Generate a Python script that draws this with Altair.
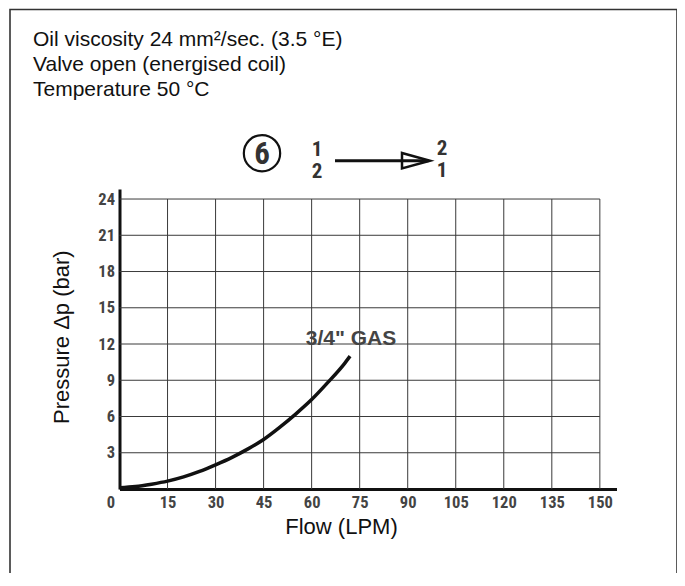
import altair as alt
import pandas as pd

# ---------------- data ----------------
FLOW = [0, 5, 10, 15, 20, 25, 30, 35, 40, 45, 50, 55, 60, 65, 70, 72]
PRESSURE = [0.1, 0.2, 0.4, 0.65, 1.0, 1.45, 2.0, 2.6, 3.3, 4.1, 5.1, 6.2, 7.4, 8.8, 10.3, 11.0]
X_TICKS = [0, 15, 30, 45, 60, 75, 90, 105, 120, 135, 150]
Y_TICKS = [3, 6, 9, 12, 15, 18, 21, 24]
X_MAX = 150
Y_MAX = 24
HEADER = ["Oil viscosity 24 mm\u00b2/sec. (3.5 \u00b0E)",
          "Valve open (energised coil)",
          "Temperature 50 \u00b0C"]
CURVE_LABEL = ['3/4" GAS']
LABEL_FLOW = [72.3]
LABEL_PRESSURE = [12.4]
FLOW_NO = ["6"]
PORTS_FROM = ["1", "2"]
PORTS_TO = ["2", "1"]
X_TITLE = "Flow (LPM)"
Y_TITLE = "Pressure \u0394p (bar)"

NARROW = "Liberation Sans Narrow, Arial Narrow, Roboto Condensed, Liberation Sans"
SANS = "Liberation Sans, Arial"

xs = alt.Scale(domain=[0, 155.2], nice=False, zero=False)
ys = alt.Scale(domain=[0, 24.83], nice=False, zero=False)

curve_df = pd.DataFrame({"flow": FLOW, "pressure": PRESSURE})
vgrid_df = pd.DataFrame({"x": X_TICKS[1:], "y0": [0] * (len(X_TICKS) - 1), "y1": [Y_MAX] * (len(X_TICKS) - 1)})
hgrid_df = pd.DataFrame({"y": Y_TICKS, "x0": [0] * len(Y_TICKS), "x1": [X_MAX] * len(Y_TICKS)})
label_df = pd.DataFrame({"flow": LABEL_FLOW, "pressure": LABEL_PRESSURE, "t": CURVE_LABEL})
header_df = pd.DataFrame({"t": ["\n".join(HEADER)]})
one = pd.DataFrame({"k": [0]})
no_df = pd.DataFrame({"t": FLOW_NO})
from_df = pd.DataFrame({"t": ["\n".join(PORTS_FROM)]})
to_df = pd.DataFrame({"t": ["\n".join(PORTS_TO)]})

GRID = "#3a3a3a"

x_axis = alt.Axis(
    values=X_TICKS, grid=False, ticks=False,
    domainColor="#111", domainWidth=3,
    labelFont=NARROW, labelFontSize=16.5, labelFontWeight="bold", labelColor="#444",
    labelPadding=5, labelFlush=False, labelOverlap=False,
    labelOffset={"condition": {"test": "datum.value === 0", "value": -9}, "value": 0},
    title=X_TITLE, titleFont=SANS, titleFontSize=22, titleFontWeight="normal",
    titleColor="#111", titleX=221.5, titleY=37.7, titleAlign="center", titleBaseline="middle",
)
y_axis = alt.Axis(
    values=Y_TICKS, grid=False, ticks=False,
    domainColor="#111", domainWidth=3,
    labelFont=NARROW, labelFontSize=16.5, labelFontWeight="bold", labelColor="#444",
    labelPadding=5, labelOverlap=False,
    title=Y_TITLE, titleFont=SANS, titleFontSize=22, titleFontWeight="normal",
    titleColor="#111", titleAngle=270, titleX=-58.5, titleY=147.7,
    titleAlign="center", titleBaseline="middle",
)

vgrid = alt.Chart(vgrid_df).mark_rule(color=GRID, strokeWidth=1).encode(
    x=alt.X("x:Q", scale=xs, axis=x_axis),
    y=alt.Y("y0:Q", scale=ys, axis=y_axis),
    y2="y1:Q",
)
hgrid = alt.Chart(hgrid_df).mark_rule(color=GRID, strokeWidth=1).encode(
    y=alt.Y("y:Q", scale=ys, axis=y_axis),
    x=alt.X("x0:Q", scale=xs, axis=x_axis),
    x2="x1:Q",
)

curve = alt.Chart(curve_df).mark_line(color="#111", strokeWidth=3.5, interpolate="monotone").encode(
    x=alt.X("flow:Q", scale=xs, axis=x_axis),
    y=alt.Y("pressure:Q", scale=ys, axis=y_axis),
)

curve_text = alt.Chart(label_df).mark_text(
    font=SANS, fontSize=21, fontWeight="bold", color="#444", align="center", baseline="middle"
).encode(
    x=alt.X("flow:Q", scale=xs, axis=x_axis),
    y=alt.Y("pressure:Q", scale=ys, axis=y_axis),
    text="t:N",
)

border = alt.Chart(one).mark_rect(fillOpacity=0, stroke="#333", strokeWidth=1.6).encode(
    x=alt.value(-109.5), x2=alt.value(557.5), y=alt.value(-179.5), y2=alt.value(430)
)

header = alt.Chart(header_df).mark_text(
    font=SANS, fontSize=21, lineHeight=25, lineBreak="\n", align="left", baseline="top", color="#111"
).encode(text="t:N", x=alt.value(-86.5), y=alt.value(-160.5))

circle = alt.Chart(one).mark_point(
    shape="circle", size=1320, filled=False, stroke="#111", strokeWidth=2.2, opacity=1
).encode(x=alt.value(142.5), y=alt.value(-35.8))

no_text = alt.Chart(no_df).mark_text(
    font=NARROW, fontSize=31, fontWeight="bold", color="#333", align="center", baseline="middle"
).encode(text="t:N", x=alt.value(142.5), y=alt.value(-34.5))

from_text = alt.Chart(from_df).mark_text(
    font=NARROW, fontSize=21, fontWeight="bold", color="#333", lineHeight=22, lineBreak="\n",
    align="center", baseline="top"
).encode(text="t:N", x=alt.value(197.5), y=alt.value(-50.5))

to_text = alt.Chart(to_df).mark_text(
    font=NARROW, fontSize=21, fontWeight="bold", color="#333", lineHeight=22, lineBreak="\n",
    align="center", baseline="top"
).encode(text="t:N", x=alt.value(322.5), y=alt.value(-51.5))

arrow_head = alt.Chart(one).mark_point(
    shape="M -1 -0.55 L 1 0 L -1 0.55 Z", size=784, filled=True, fill="white",
    stroke="#111", strokeWidth=2.5, opacity=1
).encode(x=alt.value(296.5), y=alt.value(-28.3))

arrow_line = alt.Chart(one).mark_rule(color="#111", strokeWidth=3).encode(
    x=alt.value(215.5), x2=alt.value(309), y=alt.value(-28.3)
)

chart = alt.layer(
    vgrid, hgrid, curve, curve_text,
    border, header, circle, no_text, from_text, to_text, arrow_head, arrow_line,
).properties(
    width=497, height=300,
    autosize=alt.AutoSizeParams(type="none"),
    padding={"left": 111.5, "top": 181, "right": 60.5, "bottom": 84},
    background="white",
).configure_view(stroke=None)

chart.save("out.html", embed_options={"renderer": "svg", "actions": False})
